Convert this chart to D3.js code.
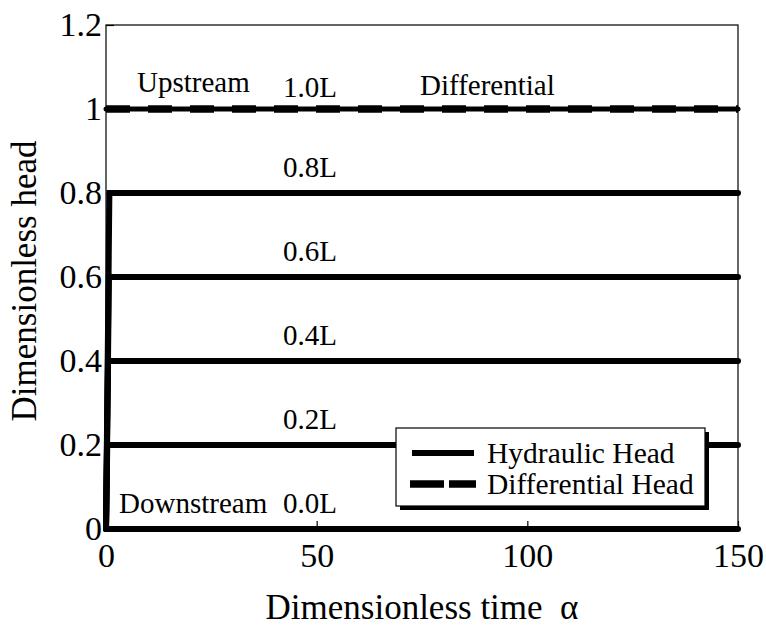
<!DOCTYPE html>
<html>
<head>
<meta charset="utf-8">
<script src="https://cdn.jsdelivr.net/npm/d3@7"></script>
<style>
  body { margin: 0; background: #fff; }
  svg { display: block; font-family: "Times New Roman", "Liberation Serif", serif; }
</style>
</head>
<body>
<svg id="chart" width="766" height="626"></svg>
<script>
// Node positions along the column and their steady dimensionless heads
const nodeNames = ["0.0L", "0.2L", "0.4L", "0.6L", "0.8L", "1.0L"];
const nodeHeads = [0, 0.2, 0.4, 0.6, 0.8, 1.0];
// Time at which each interior node reaches its steady head (boundaries are fixed)
const riseTimes = [null, 0.3, 0.5, 0.7, 0.8, null];
const timeEnd = 150;
// Differential head across the column
const diffTimes = [0, 150];
const diffHeads = [1, 1];

const xTicks = [0, 50, 100, 150];
const yTicks = [0, 0.2, 0.4, 0.6, 0.8, 1.0, 1.2];
const yTickLabels = ["0", "0.2", "0.4", "0.6", "0.8", "1", "1.2"];

const svg = d3.select("#chart");
const m = { left: 106, right: 738, top: 25, bottom: 529 };
const x = d3.scaleLinear().domain([0, 150]).range([m.left, m.right]);
const y = d3.scaleLinear().domain([0, 1.2]).range([m.bottom, m.top]);

// Axes box
svg.append("rect")
  .attr("x", m.left).attr("y", m.top)
  .attr("width", m.right - m.left).attr("height", m.bottom - m.top)
  .attr("fill", "none").attr("stroke", "#000").attr("stroke-width", 1.2);

// Bottom axis with inward ticks
const xAxis = svg.append("g").attr("transform", `translate(0,${m.bottom})`)
  .call(d3.axisBottom(x).tickValues(xTicks).tickSize(-8).tickPadding(14).tickFormat(d3.format("d")));
xAxis.select(".domain").remove();
xAxis.selectAll("text").attr("font-size", 34).attr("font-family", "Times New Roman, Liberation Serif, serif").attr("fill", "#000");
xAxis.selectAll("line").attr("stroke-width", 1.2);

// Left axis with inward ticks
const yAxis = svg.append("g").attr("transform", `translate(${m.left},0)`)
  .call(d3.axisLeft(y).tickValues(yTicks).tickSize(-8).tickPadding(4)
    .tickFormat((d, i) => yTickLabels[i]));
yAxis.select(".domain").remove();
yAxis.selectAll("text").attr("font-size", 34).attr("font-family", "Times New Roman, Liberation Serif, serif").attr("fill", "#000");
yAxis.selectAll("line").attr("stroke-width", 1.2);

// Hydraulic head curves for every node
const line = d3.line().x(d => x(d[0])).y(d => y(d[1]));
const series = nodeHeads.map((h, i) => {
  if (riseTimes[i] === null) return [[0, h], [timeEnd, h]];
  return [[0, 0], [riseTimes[i], h], [timeEnd, h]];
});
svg.append("g").selectAll("path").data(series).join("path")
  .attr("d", line)
  .attr("fill", "none").attr("stroke", "#000")
  .attr("stroke-width", (d, i) => i === 5 ? 5 : 6)
  .attr("stroke-linecap", "round").attr("stroke-linejoin", "miter");

// Differential head (dashed)
svg.append("path")
  .datum(diffTimes.map((t, i) => [t, diffHeads[i]]))
  .attr("d", line)
  .attr("fill", "none").attr("stroke", "#000")
  .attr("stroke-width", 7.5)
  .attr("stroke-dasharray", "24 18")
  .attr("stroke-linecap", "butt");

// Node labels
const lab = svg.append("g").attr("font-size", 29).attr("fill", "#000");
nodeNames.forEach((n, i) => {
  const base = i === 0 ? y(0) - 16 : (i === 5 ? y(1) - 12 : y(nodeHeads[i]) - 16);
  lab.append("text").attr("x", 283).attr("y", base).text(n);
});
lab.append("text").attr("x", 137).attr("y", y(1) - 17).text("Upstream");
lab.append("text").attr("x", 420).attr("y", y(1) - 14).text("Differential");
lab.append("text").attr("x", 119).attr("y", y(0) - 16).text("Downstream");

// Axis titles
svg.append("text")
  .attr("x", (m.left + m.right) / 2).attr("y", 619)
  .attr("text-anchor", "middle").attr("font-size", 35)
  .text("Dimensionless time\u00a0 α");
svg.append("text")
  .attr("transform", `translate(36,281) rotate(-90)`)
  .attr("text-anchor", "middle").attr("font-size", 35)
  .text("Dimensionless head");

// Legend with drop shadow
const lg = svg.append("g");
lg.append("rect").attr("x", 400).attr("y", 432).attr("width", 309).attr("height", 78).attr("fill", "#000");
lg.append("rect").attr("x", 396).attr("y", 428).attr("width", 309).attr("height", 78)
  .attr("fill", "#fff").attr("stroke", "#000").attr("stroke-width", 1.2);
lg.append("line").attr("x1", 412).attr("x2", 474).attr("y1", 453).attr("y2", 453)
  .attr("stroke", "#000").attr("stroke-width", 6);
lg.append("line").attr("x1", 410).attr("x2", 476).attr("y1", 484).attr("y2", 484)
  .attr("stroke", "#000").attr("stroke-width", 7.5)
  .attr("stroke-dasharray", "34 5").attr("stroke-linecap", "butt");
lg.append("text").attr("x", 487).attr("y", 463).attr("font-size", 29.5).text("Hydraulic Head");
lg.append("text").attr("x", 487).attr("y", 494).attr("font-size", 29.5).text("Differential Head");
</script>
</body>
</html>
